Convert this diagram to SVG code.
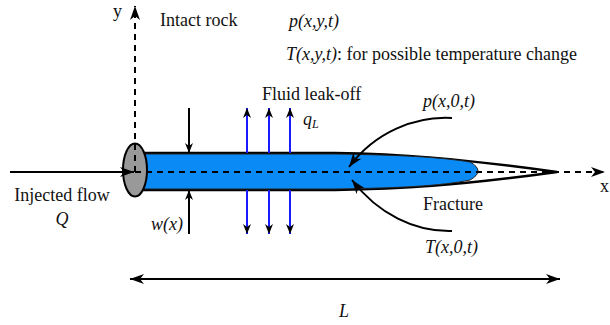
<svg xmlns="http://www.w3.org/2000/svg" width="610" height="325" viewBox="0 0 610 325">
<style>
text{font-family:"Liberation Serif","Times New Roman",serif;font-size:18px;fill:#111}
.it{font-style:italic}
.ln{stroke:#000;stroke-width:2;fill:none}
.dash{stroke:#000;stroke-width:2;fill:none;stroke-dasharray:6,5}
.leak{stroke:#1a1aff;stroke-width:2;fill:none}
</style>
<defs>
<marker id="big" markerUnits="userSpaceOnUse" markerWidth="15" markerHeight="11" refX="14" refY="5" orient="auto-start-reverse">
<path d="M0,0 L14,5 L0,10 L4,5 Z" fill="#000"/>
</marker>
<marker id="sm" markerUnits="userSpaceOnUse" markerWidth="11" markerHeight="9" refX="10" refY="4" orient="auto">
<path d="M0,0 L10,4 L0,8 L3,4 Z" fill="#000"/>
</marker>
</defs>
<g id="fracture">
<path d="M140,153 L335,153 C400,154 455,158 557,172 C455,186 400,189 335,190 L140,190 Z" fill="#fff" stroke="#000" stroke-width="2.5"/>
<path d="M140,154 L335,154 C400,155 440,157 470,162 Q486,171 470,180 C440,186 400,188 335,189 L140,189 Z" fill="#0a8af5" stroke="#222" stroke-width="1"/>
</g>
<g id="wellbore">
<ellipse cx="135" cy="170" rx="12" ry="26.5" fill="#999" stroke="#000" stroke-width="2"/>
</g>
<g id="connectors">
<path class="dash" d="M135,172 L135,6" marker-end="url(#big)"/>
<path class="dash" d="M135,172 L605,172" marker-end="url(#big)"/>
<path class="ln" d="M10,172 L134,172" marker-end="url(#big)"/>
<path class="ln" d="M189,108 L189,153" marker-end="url(#sm)"/>
<path class="ln" d="M189,234 L189,190" marker-end="url(#sm)"/>
<path class="leak" d="M247,153 L247,108" marker-end="url(#sm)"/>
<path class="leak" d="M269,153 L269,108" marker-end="url(#sm)"/>
<path class="leak" d="M290,153 L290,108" marker-end="url(#sm)"/>
<path class="leak" d="M247,190 L247,234" marker-end="url(#sm)"/>
<path class="leak" d="M269,190 L269,234" marker-end="url(#sm)"/>
<path class="leak" d="M290,190 L290,234" marker-end="url(#sm)"/>
<path class="ln" d="M452,118 C415,116 375,132 349,167" marker-end="url(#big)"/>
<path class="ln" d="M452,231 C415,232 378,214 352,180" marker-end="url(#big)"/>
<path class="ln" d="M130,279 L560,279" marker-start="url(#big)" marker-end="url(#big)"/>
</g>
<g id="labels">
<text x="113" y="17">y</text>
<text x="600" y="192">x</text>
<text x="160" y="26">Intact rock</text>
<text x="289" y="27" class="it">p(x,y,t)</text>
<text x="286" y="60"><tspan class="it">T(x,y,t)</tspan>: for possible temperature change</text>
<text x="262" y="100">Fluid leak-off</text>
<text x="303" y="125" class="it">q<tspan font-size="12" dy="3">L</tspan></text>
<text x="423" y="107" class="it">p(x,0,t)</text>
<text x="423" y="210">Fracture</text>
<text x="425" y="253" class="it">T(x,0,t)</text>
<text x="62" y="201" text-anchor="middle">Injected flow</text>
<text x="62" y="225" text-anchor="middle" class="it">Q</text>
<text x="183" y="230" text-anchor="end" class="it">w(x)</text>
<text x="344" y="317" text-anchor="middle" class="it">L</text>
</g>
</svg>
